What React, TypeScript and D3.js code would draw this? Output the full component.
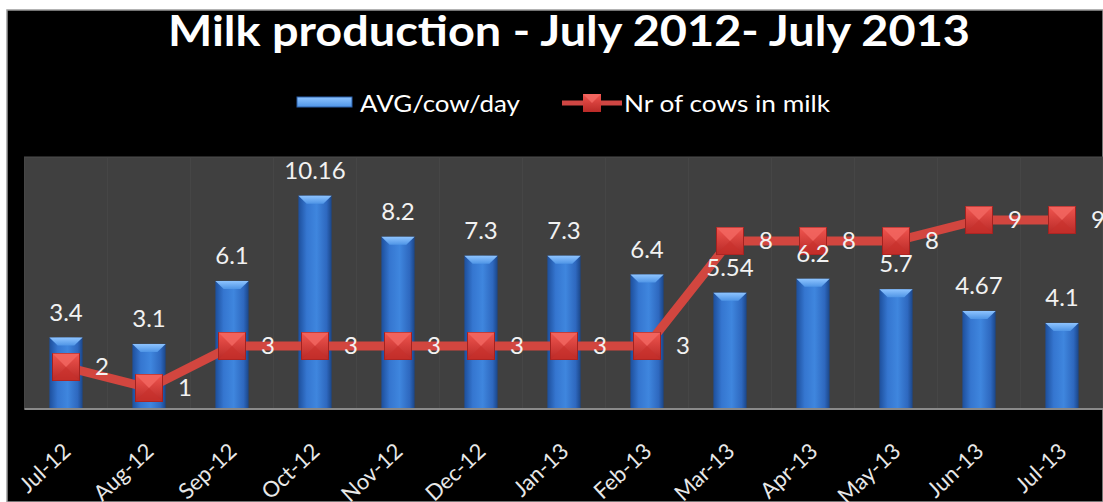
import React from "react";
import * as d3 from "d3";

const categories = ["Jul-12","Aug-12","Sep-12","Oct-12","Nov-12","Dec-12","Jan-13","Feb-13","Mar-13","Apr-13","May-13","Jun-13","Jul-13"];
const avgPerCow = [3.4, 3.1, 6.1, 10.16, 8.2, 7.3, 7.3, 6.4, 5.54, 6.2, 5.7, 4.67, 4.1];
const cowsInMilk = [2, 1, 3, 3, 3, 3, 3, 3, 8, 8, 8, 9, 9];
const yTicks = [0, 12];

const W = 1103, H = 502;
const plotLeft = 24.5, plotRight = 1103.5, plotTop = 157, plotBottom = 409;
const FONT = "Lato, 'Open Sans', sans-serif";

export default function App() {
  const x = d3.scaleBand<string>().domain(categories).range([plotLeft, plotRight]).padding(0);
  const y = d3.scaleLinear().domain([yTicks[0], yTicks[1]]).range([plotBottom, plotTop]);
  const bw = x.bandwidth() * 0.4;
  const cx = (c: string) => (x(c) as number) + x.bandwidth() / 2;
  const line = d3.line<number>().x((_, i) => cx(categories[i])).y((d) => y(d));
  const ms = 27;

  return (
    <svg width={W} height={H} style={{ position: "absolute", left: 0, top: 0 }} fontFamily={FONT}>
      <defs>
        <linearGradient id="barG" x1="0" x2="1" y1="0" y2="0">
          <stop offset="0" stopColor="#1d4f9c" />
          <stop offset="0.25" stopColor="#3576d0" />
          <stop offset="0.55" stopColor="#3f86de" />
          <stop offset="0.85" stopColor="#2e68bf" />
          <stop offset="1" stopColor="#1b4688" />
        </linearGradient>
        <linearGradient id="barTop" x1="0" x2="0" y1="0" y2="1">
          <stop offset="0" stopColor="#8ec4ff" />
          <stop offset="1" stopColor="#4f95e6" />
        </linearGradient>
        <linearGradient id="mkG" x1="0" x2="0" y1="0" y2="1">
          <stop offset="0" stopColor="#f0554f" />
          <stop offset="1" stopColor="#b92a27" />
        </linearGradient>
        <clipPath id="plotClip">
          <rect x={plotLeft} y={0} width={W - plotLeft} height={H} />
        </clipPath>
      </defs>
      <rect x={0} y={0} width={W} height={H} fill="#ffffff" />
      <rect x={7} y={10} width={W - 7} height={H - 10} fill="#000000" stroke="#9a9a9a" strokeWidth={1.5} />

      <text x={168} y={46} textAnchor="start" fill="#ffffff" fontWeight="bold" fontSize={42} textLength={802} lengthAdjust="spacingAndGlyphs">
        Milk production - July 2012- July 2013
      </text>

      {/* legend */}
      <rect x={297} y={97} width={55} height={10} fill="url(#barTop)" stroke="#2a5ea8" strokeWidth={1} />
      <text x={360} y={112} fill="#ffffff" fontSize={23} textLength={160} lengthAdjust="spacingAndGlyphs">AVG/cow/day</text>
      <line x1={562} x2={622} y1={103} y2={103} stroke="#cf4643" strokeWidth={5} />
      <rect x={583} y={94} width={18} height={18} fill="url(#mkG)" />
      <path d="M583,94 L601,94 L592,103 Z" fill="#f46a64" opacity={0.8} />
      <text x={624} y={112} fill="#ffffff" fontSize={23} textLength={206} lengthAdjust="spacingAndGlyphs">Nr of cows in milk</text>

      {/* plot area */}
      <rect x={plotLeft} y={plotTop} width={W - plotLeft} height={plotBottom - plotTop} fill="#404040" stroke="#4c4c4c" strokeWidth={1} />
      {categories.map((c, i) => (
        <line key={"g" + i} x1={x(c)} x2={x(c)} y1={plotTop} y2={plotBottom} stroke="#464646" strokeWidth={1} />
      ))}

      <g clipPath="url(#plotClip)">
        {categories.map((c, i) => {
          const top = y(avgPerCow[i]);
          const x0 = cx(c) - bw / 2;
          return (
            <g key={"b" + i}>
              <rect x={x0} y={top} width={bw} height={plotBottom - top} fill="url(#barG)" />
              <path d={`M${x0},${top} L${x0 + bw},${top} L${x0 + bw * 0.75},${top + 8} L${x0 + bw * 0.25},${top + 8} Z`} fill="url(#barTop)" />
            </g>
          );
        })}
      </g>

      <line x1={plotLeft} x2={W} y1={plotBottom} y2={plotBottom} stroke="#8a8a8a" strokeWidth={2} />

      <path d={line(cowsInMilk) || ""} fill="none" stroke="#d2463f" strokeWidth={9} strokeLinejoin="round" />
      {categories.map((c, i) => {
        const mx = cx(c), my = y(cowsInMilk[i]);
        return (
          <g key={"m" + i}>
            <rect x={mx - ms / 2} y={my - ms / 2} width={ms} height={ms} fill="url(#mkG)" stroke="#a32220" strokeWidth={1} />
            <path d={`M${mx - ms / 2},${my - ms / 2} L${mx + ms / 2},${my - ms / 2} L${mx},${my} Z`} fill="#f26660" opacity={0.85} />
            <path d={`M${mx - ms / 2},${my + ms / 2} L${mx + ms / 2},${my + ms / 2} L${mx},${my} Z`} fill="#c8302c" opacity={0.6} />
          </g>
        );
      })}

      {/* bar labels */}
      {categories.map((c, i) => (
        <text key={"bl" + i} x={cx(c)} y={y(avgPerCow[i]) - 17} textAnchor="middle" fill="#f2f2f2" fontSize={24}>
          {avgPerCow[i]}
        </text>
      ))}
      {/* line labels */}
      {categories.map((c, i) => (
        <text key={"ll" + i} x={cx(c) + 29} y={y(cowsInMilk[i]) + 8} textAnchor="start" fill="#f2f2f2" fontSize={24}>
          {cowsInMilk[i]}
        </text>
      ))}

      {/* x axis labels */}
      {categories.map((c, i) => {
        const px = cx(c) + 6, py = 453;
        return (
          <text key={"xl" + i} x={px} y={py} textAnchor="end" fill="#e8e8e8" fontSize={22} transform={`rotate(-43,${px},${py})`}>
            {c}
          </text>
        );
      })}
    </svg>
  );
}
